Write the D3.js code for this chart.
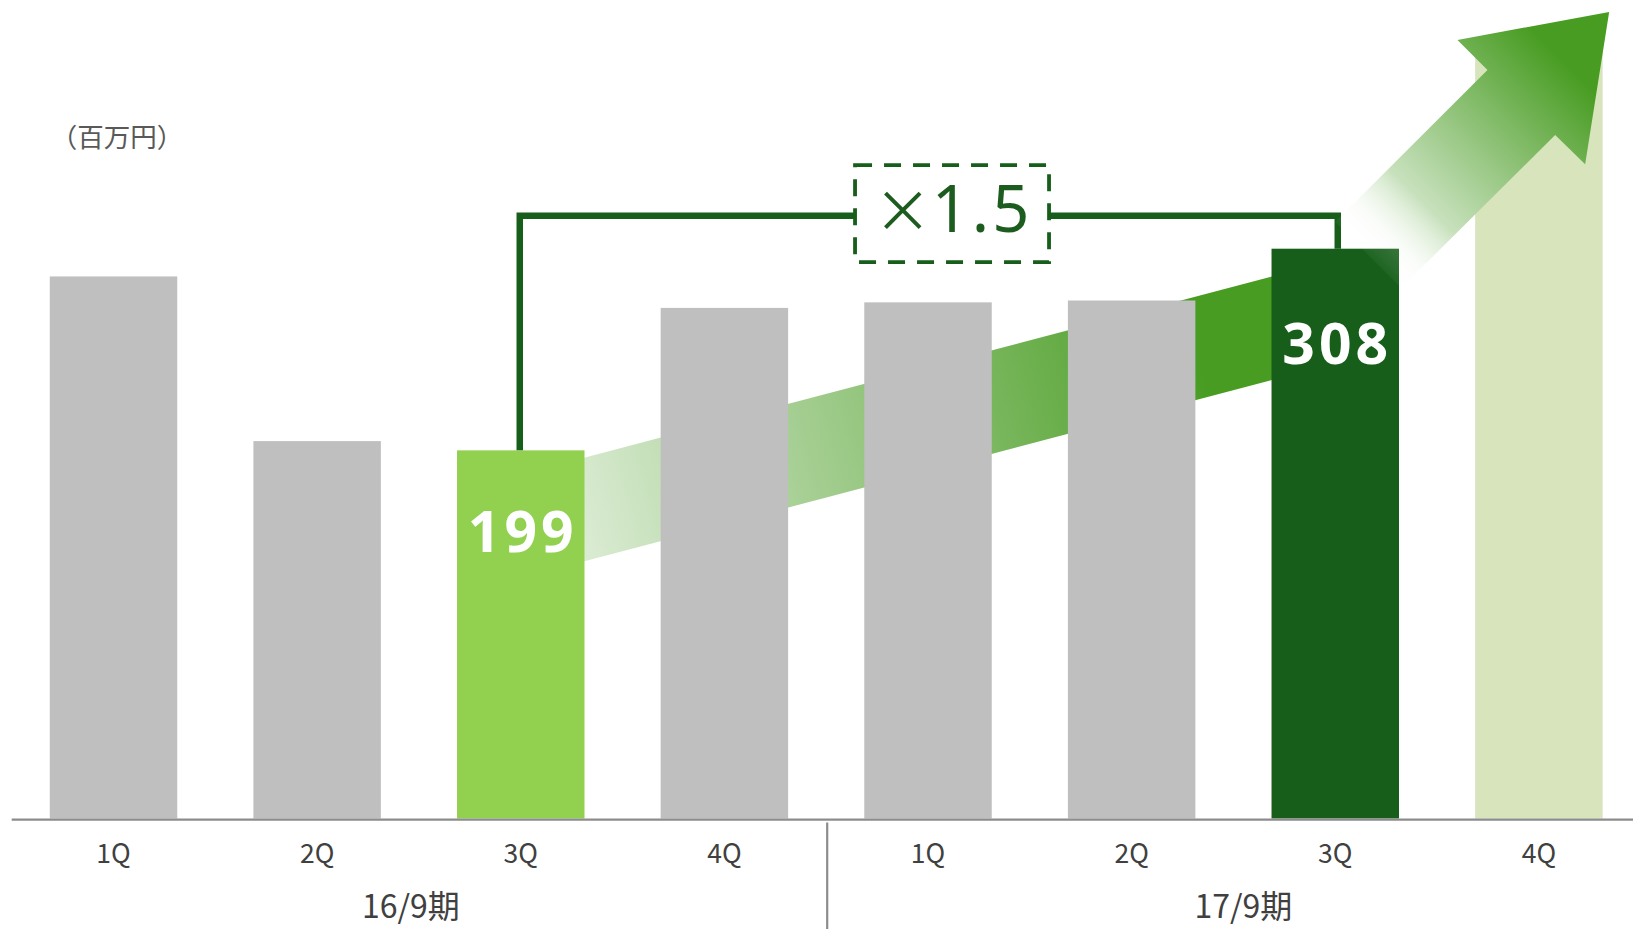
<!DOCTYPE html>
<html><head><meta charset="utf-8">
<script src="https://cdn.jsdelivr.net/npm/d3@7"></script>
<style>html,body{margin:0;padding:0;background:#fff;overflow:hidden}</style>
</head><body>
<svg id="c" width="1633" height="929"></svg>
<script>
// ---- data ----
const categories = ["1Q","2Q","3Q","4Q","1Q","2Q","3Q","4Q"];
const periods = ["16/9期","17/9期"];
const periodOf = [0,0,0,0,1,1,1,1];
const values = [293,204,199,276,279,280,308,414];
const barKinds = ["past","past","base","past","past","past","current","outlook"];
const valueLabels = [null,null,"199",null,null,null,"308",null];
const unitLabel = "（百万円）";
const multipleSign = "×";
const multipleValue = "1.5";
const trendValues = [186, 302];   // trend ribbon upper edge at 16/9期3Q and 17/9期3Q
const trendThickness = 56;

// ---- setup ----
const W = 1633, H = 929;
const svg = d3.select("#c");
const ids = categories.map((c,i)=>periods[periodOf[i]]+"-"+c);
const x = d3.scaleBand().domain(ids).range([11.7,1640.7]).paddingInner(0.374).paddingOuter(0.187);
const y = d3.scaleLinear().domain([0,400]).range([818.5,78.5]);
const bw = x.bandwidth();
const cx = i => x(ids[i]) + bw/2;
const colors = {past:"#bfbfbf", base:"#92d050", current:"#165e1a", outlook:"#d8e4bc"};
const dark = "#165e1a", trendGreen = "#489c22";
const cjk = "'Noto Sans CJK JP', 'Noto Sans', sans-serif";

const defs = svg.append("defs");

// ---- trend ribbon (behind bars) ----
const iA = 2, iB = 6;
const xa = cx(iA), xb = cx(iB);
const slope = (y(trendValues[1]) - y(trendValues[0])) / (xb - xa);
const gx1 = xa - 0.142*(xb-xa), gx2 = xa + 0.8165*(xb-xa);
const rg = defs.append("linearGradient").attr("id","ribbonGrad")
  .attr("gradientUnits","userSpaceOnUse")
  .attr("x1",gx1).attr("y1",y(trendValues[0]) + (gx1-xa)*slope)
  .attr("x2",gx2).attr("y2",y(trendValues[0]) + (gx2-xa)*slope);
rg.append("stop").attr("offset",0).attr("stop-color",trendGreen).attr("stop-opacity",0);
rg.append("stop").attr("offset",1).attr("stop-color",trendGreen).attr("stop-opacity",1);
svg.append("path")
  .attr("d", d3.line()([
    [xa, y(trendValues[0])], [xb, y(trendValues[1])],
    [xb, y(trendValues[1]-trendThickness)], [xa, y(trendValues[0]-trendThickness)]
  ]) + "Z")
  .attr("fill","url(#ribbonGrad)");

// ---- bars ----
svg.append("g").selectAll("rect").data(values).join("rect")
  .attr("x",(d,i)=>x(ids[i])).attr("width",bw)
  .attr("y",d=>y(d)).attr("height",d=>y(0)-y(d))
  .attr("fill",(d,i)=>colors[barKinds[i]]);

// ---- axis line & divider ----
svg.append("line").attr("x1",x.range()[0]).attr("x2",W).attr("y1",819.6).attr("y2",819.6)
  .attr("stroke","#8c8c8c").attr("stroke-width",2.2);
const divX = (cx(3)+cx(4))/2 + 1;
svg.append("line").attr("x1",divX).attr("x2",divX).attr("y1",822.5).attr("y2",H)
  .attr("stroke","#8c8c8c").attr("stroke-width",2.2);

// ---- tick labels ----
svg.append("g").selectAll("text").data(categories).join("text")
  .attr("x",(d,i)=>cx(i)).attr("y",862.5)
  .attr("text-anchor","middle").attr("font-family",cjk)
  .attr("font-size",26.5).attr("fill","#404040").text(d=>d);
svg.append("g").selectAll("text").data(periods).join("text")
  .attr("x",(d,p)=>d3.mean(ids.filter((id,i)=>periodOf[i]===p), id=>x(id)+bw/2) + (p===0?-8:10))
  .attr("y",918)
  .attr("text-anchor","middle").attr("font-family",cjk)
  .attr("font-size",32).attr("fill","#404040").text(d=>d);

// ---- unit ----
svg.append("text").attr("x",117).attr("y",147).attr("text-anchor","middle")
  .attr("font-family",cjk).attr("font-size",26.5)
  .attr("fill","#595959").text(unitLabel);

// ---- bracket ----
const bracketY = y(values[iB]) - 33;
svg.append("path")
  .attr("d",`M${xa-1},${y(values[iA])}V${bracketY}H${xb+2.5}V${y(values[iB])}`)
  .attr("fill","none").attr("stroke",dark).attr("stroke-width",6.5);

// dashed box with multiple
const boxCx = xa + (xb-xa)*0.5295, boxW = 194, boxH = 97;
svg.append("rect").attr("x",boxCx-boxW/2).attr("y",bracketY-2-boxH/2)
  .attr("width",boxW).attr("height",boxH)
  .attr("fill","#fff").attr("stroke",dark).attr("stroke-width",3.8)
  .attr("stroke-dasharray","17,12");
const mt = svg.append("text").attr("x",boxCx+1).attr("y",bracketY+16)
  .attr("text-anchor","middle").attr("fill","#1d5c1f");
mt.append("tspan").attr("font-family",cjk).attr("font-size",58).text(multipleSign);
mt.append("tspan").attr("font-family","'Noto Sans', sans-serif").attr("font-size",65)
  .attr("letter-spacing",3).attr("dx",0).text(multipleValue);

// ---- big arrow ----
const bx = x(ids[7]);
const ag = defs.append("linearGradient").attr("id","arrowGrad")
  .attr("gradientUnits","userSpaceOnUse")
  .attr("x1",bx-114).attr("y1",262).attr("x2",bx+88).attr("y2",60);
const mix = d3.interpolateRgb("#ffffff", trendGreen);
ag.append("stop").attr("offset",0).attr("stop-color","#ffffff").attr("stop-opacity",0);
ag.append("stop").attr("offset",0.12).attr("stop-color",mix(0.12)).attr("stop-opacity",0.15);
ag.append("stop").attr("offset",0.3).attr("stop-color",mix(0.3)).attr("stop-opacity",1);
ag.append("stop").attr("offset",1).attr("stop-color",trendGreen).attr("stop-opacity",1);
svg.append("path")
  .attr("d", d3.line()([
    [bx+134,12],[bx+110,164.3],[bx+80,135],[bx-74,288],[bx-140,222],[bx+12.3,70],[bx-17.7,40]
  ])+"Z")
  .attr("fill","url(#arrowGrad)");

// ---- value labels ----
const labelDy = {2:102, 6:115};
svg.append("g").selectAll("text").data(valueLabels.map((t,i)=>({t,i})).filter(d=>d.t))
  .join("text")
  .attr("x",d=>cx(d.i)+2).attr("y",d=>y(values[d.i])+labelDy[d.i])
  .attr("text-anchor","middle").attr("font-family","'Noto Sans', sans-serif")
  .attr("font-weight","bold").attr("font-size",57).attr("letter-spacing",4)
  .attr("fill","#fff").text(d=>d.t);
</script>
</body></html>
